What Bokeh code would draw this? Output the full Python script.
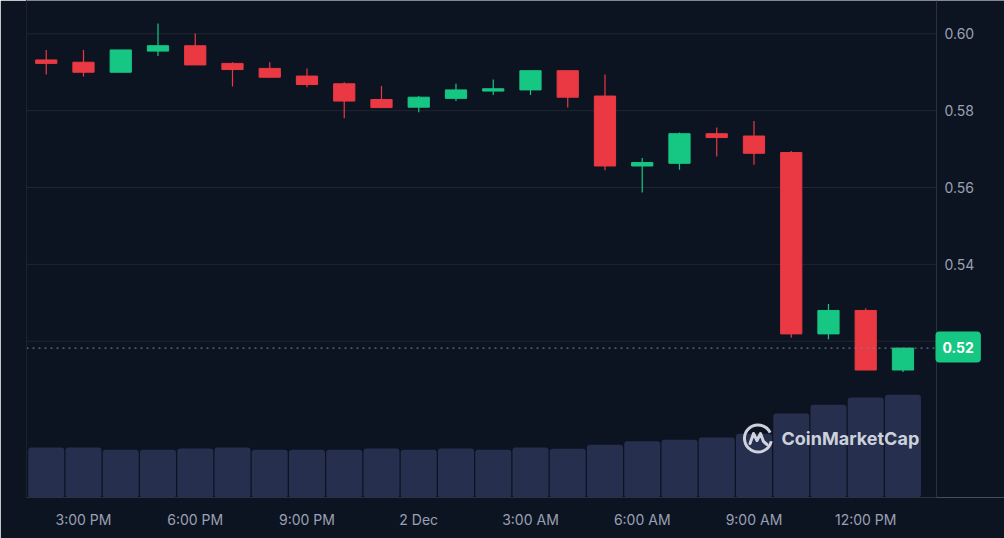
import math
from bokeh.plotting import figure
from bokeh.models import Range1d, LinearAxis, FixedTicker, Label, Span
from bokeh.core.properties import value
from bokeh.embed import file_html
from bokeh.resources import INLINE

# ---- data (hourly candles, 2:00 PM -> 1:00 PM next day) ----
hours = list(range(24))
opens = [0.5932, 0.5926, 0.5900, 0.5955, 0.5969, 0.5923, 0.5910, 0.5890,
         0.5870, 0.5829, 0.5809, 0.5832, 0.5851, 0.5854, 0.5904, 0.5838,
         0.5656, 0.5663, 0.5740, 0.5734, 0.5691, 0.5219, 0.5280, 0.5125]
highs = [0.5958, 0.5958, 0.5958, 0.6027, 0.6001, 0.5926, 0.5926, 0.5910,
         0.5874, 0.5864, 0.5838, 0.5870, 0.5881, 0.5904, 0.5904, 0.5894,
         0.5677, 0.5743, 0.5756, 0.5773, 0.5695, 0.5297, 0.5286, 0.5182]
lows = [0.5894, 0.5889, 0.5900, 0.5942, 0.5919, 0.5863, 0.5887, 0.5861,
        0.5780, 0.5808, 0.5796, 0.5825, 0.5841, 0.5841, 0.5808, 0.5645,
        0.5587, 0.5646, 0.5681, 0.5659, 0.5209, 0.5205, 0.5125, 0.5120]
closes = [0.5923, 0.5900, 0.5958, 0.5969, 0.5919, 0.5907, 0.5887, 0.5868,
          0.5825, 0.5808, 0.5835, 0.5854, 0.5857, 0.5904, 0.5835, 0.5656,
          0.5665, 0.5740, 0.5730, 0.5689, 0.5219, 0.5280, 0.5125, 0.5182]
volumes = [5.00, 5.00, 4.77, 4.77, 4.90, 5.00, 4.77, 4.77, 4.77, 4.90, 4.77, 4.90,
           4.77, 5.00, 4.87, 5.27, 5.63, 5.77, 6.00, 6.37, 8.40, 9.27, 10.00, 10.27]
tick_idx = [1, 4, 7, 10, 13, 16, 19, 22]
tick_labels = ["3:00 PM", "6:00 PM", "9:00 PM", "2 Dec", "3:00 AM", "6:00 AM", "9:00 AM", "12:00 PM"]
price_ticks = [0.54, 0.56, 0.58, 0.60]
grid_ticks = [0.52, 0.54, 0.56, 0.58, 0.60]
last_price = closes[-1]

# ---- style / layout ----
BG = "#0d1421"
GRID = "#212631"
AXIS = "#2c313d"
UP = "#16c784"
DOWN = "#ea3943"
VOL = "#262f4e"
LABEL = "#9aa0b3"
FONT = "Inter"

X0, X1 = -0.53, 23.9          # chart area (price axis sits at X1)
PX_PER_UNIT = 910 / (X1 - X0)
X_END = X1 + 68 / PX_PER_UNIT  # extra room for price scale inside the frame
Y0, Y1 = 0.47932, 0.60867

colors = [UP if c >= o else DOWN for o, c in zip(opens, closes)]
tops = [max(o, c) for o, c in zip(opens, closes)]
bottoms = [min(o, c) for o, c in zip(opens, closes)]

p = figure(width=1004, height=538,
           x_range=Range1d(X0, X_END), y_range=Range1d(Y0, Y1),
           y_axis_location=None, output_backend="svg", toolbar_location=None,
           min_border_left=26, min_border_right=0, min_border_top=0, min_border_bottom=41,
           background_fill_color=BG, border_fill_color=BG, outline_line_color=None)

p.extra_y_ranges = {"vol": Range1d(0, 49.7), "py": Range1d(0, 497)}
p.extra_x_ranges = {"px": Range1d(0, 978)}

p.xgrid.visible = False
p.ygrid.visible = False

# horizontal grid lines (stop at the price scale)
p.segment(x0=[X0] * len(grid_ticks), y0=grid_ticks, x1=[X1] * len(grid_ticks), y1=grid_ticks,
          line_color=GRID, line_width=1)
# price scale border
p.add_layout(Span(location=X1, dimension="height", line_color=AXIS, line_width=1))

# price scale labels
p.text(x=[X1] * len(price_ticks), y=price_ticks, text=[f"{t:.2f}" for t in price_ticks],
       x_offset=8, text_align="left", text_baseline="middle", text_color=LABEL,
       text_font=value(FONT), text_font_size="14px")

# bottom time axis
p.xaxis.ticker = FixedTicker(ticks=tick_idx)
p.xaxis.major_label_overrides = dict(zip(tick_idx, tick_labels))
p.xaxis.bounds = (X0, X1)
p.xaxis.axis_line_color = AXIS
p.xaxis.major_tick_line_color = None
p.xaxis.minor_tick_line_color = None
p.xaxis.major_tick_out = 0
p.xaxis.major_label_standoff = 13
p.xaxis.major_label_text_color = LABEL
p.xaxis.major_label_text_font = FONT
p.xaxis.major_label_text_font_size = "14px"

# left frame line and outer container line
inner_left = LinearAxis(axis_line_color=AXIS, major_tick_line_color=None, minor_tick_line_color=None,
                        major_label_text_font_size="0px", major_tick_out=21, major_tick_in=0,
                        major_label_standoff=0, ticker=FixedTicker(ticks=[]))
outer_left = LinearAxis(axis_line_color="#1c212c", major_tick_line_color=None, minor_tick_line_color=None,
                        major_label_text_font_size="0px", major_tick_out=0, major_tick_in=0,
                        major_label_standoff=0, ticker=FixedTicker(ticks=[]))
p.add_layout(inner_left, "left")
p.add_layout(outer_left, "left")

# volume bars
p.vbar(x=hours, top=volumes, bottom=0, width=0.966, y_range_name="vol",
       fill_color=VOL, line_color=None, border_radius=3)

# watermark
cx, cy = 731.5, 59
p.arc(x=[cx], y=[cy], radius=13.5, start_angle=0.45, end_angle=2 * math.pi - 0.2,
      direction="anticlock", line_color="#dfe2ea", line_width=3, line_alpha=0.92,
      x_range_name="px", y_range_name="py")
mx = [cx - 8, cx - 4.5, cx - 1, cx + 2.5, cx + 5.5, cx + 9]
my = [cy - 5, cy + 5, cy - 2, cy + 5, cy - 3, cy - 6]
p.line(x=mx, y=my, line_color="#dfe2ea", line_width=3, line_alpha=0.92,
       line_join="round", line_cap="round", x_range_name="px", y_range_name="py")
p.add_layout(Label(x=755, y=59, x_units="screen", y_units="screen", text="CoinMarketCap",
                   text_baseline="middle", text_align="left", text_font=FONT,
                   text_font_size="18px", text_font_style="bold",
                   text_color="#dfe2ea", text_alpha=0.92))

# candles
p.segment(x0=hours, y0=lows, x1=hours, y1=highs, line_color=colors, line_width=1.2)
p.vbar(x=hours, top=tops, bottom=bottoms, width=0.57, fill_color=colors, line_color=colors,
       line_width=1)

# current price line + label
p.segment(x0=[X0], y0=[last_price], x1=[X1], y1=[last_price], line_color="#7d8396",
          line_dash="2 4", line_width=1)
p.add_layout(Label(x=X1, y=last_price, x_units="data", y_units="data", x_offset=-1, y_offset=1,
                   text=f"{last_price:.2f}", text_align="left", text_baseline="middle",
                   text_font=FONT, text_font_size="14px", text_font_style="bold",
                   text_color="white", background_fill_color=UP, border_radius=4,
                   padding=(7, 7, 10, 10)))

open("out.html", "w").write(file_html(p, INLINE))
